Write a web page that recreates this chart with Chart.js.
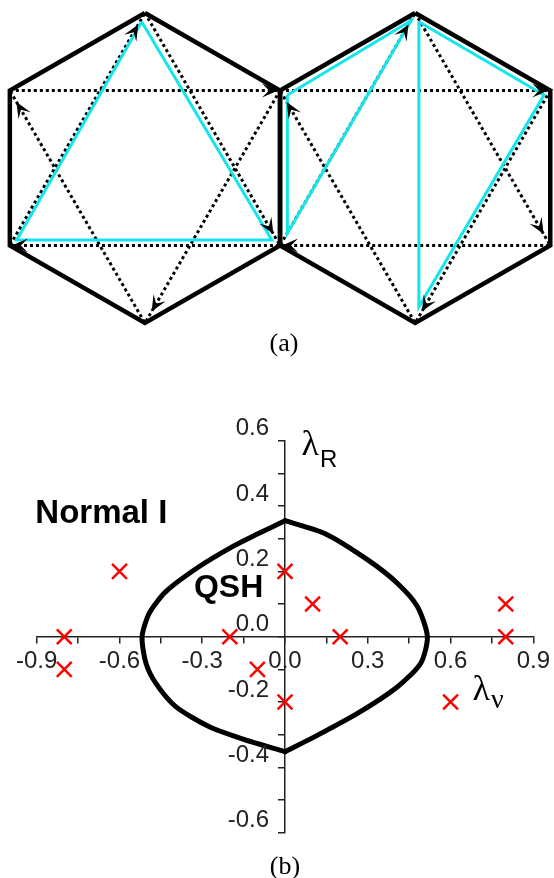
<!DOCTYPE html>
<html>
<head>
<meta charset="utf-8">
<script src="https://cdn.jsdelivr.net/npm/chart.js@4.4.1/dist/chart.umd.min.js"></script>
<style>
  html, body { margin: 0; padding: 0; background: #fff; }
  #wrap { position: relative; width: 554px; height: 878px; overflow: hidden; }
  canvas { position: absolute; left: 0; }
  #hexCanvas { top: 0; }
  #phaseCanvas { top: 380px; }
  .cap { position: absolute; transform: translate(-50%, -50%); font: 26px 'Liberation Serif', 'Times New Roman', serif; color: #000; white-space: nowrap; }
</style>
</head>
<body>
<div id="wrap">
  <canvas id="hexCanvas" width="554" height="330" style="width:554px;height:330px"></canvas>
  <canvas id="phaseCanvas" width="554" height="498" style="width:554px;height:498px"></canvas>
  <div class="cap" style="left:284px;top:343px">(a)</div>
  <div class="cap" style="left:285px;top:866px">(b)</div>
</div>
<script>
// (a) 격자 단위: 두 육각형이 공유하는 변이 x=0, 외접원 반지름 = 1
const hexVertexY = [1, 0.5, -0.5, -1, -0.5, 0.5];            // T, UR, LR, B, LL, UL
const hexLeftX   = [-0.866, 0, 0, -0.866, -1.732, -1.732];
const hexRightX  = [0.866, 1.732, 1.732, 0.866, 0, 0];
const hopOrderA  = [0, 2, 4, 0];                               // T -> LR -> LL -> T
const hopOrderB  = [5, 1, 3, 5];                               // UL -> UR -> B -> UL

const cyanLeftX   = [-0.887, -1.688, -0.053, -0.887];
const cyanLeftY   = [0.944, -0.465, -0.465, 0.944];
const cyanRightAX = [0.047, 0.838, 0.047, 0.047];
const cyanRightAY = [0.471, 0.950, -0.421, 0.471];
const cyanRightBX = [0.89, 1.692, 0.89, 0.89];
const cyanRightBY = [0.944, 0.471, -0.895, 0.944];

// (b) 상도: QSH 경계선, 계산 지점, 눈금
const boundaryLeftX  = [0, -0.108, -0.192, -0.312, -0.432, -0.492, -0.518, -0.504, -0.468, -0.396, -0.276, -0.144, 0];
const boundaryLeftY  = [0.355, 0.311, 0.275, 0.214, 0.138, 0.072, 0, -0.081, -0.143, -0.214, -0.275, -0.316, -0.352];
const boundaryRightX = [0, 0.144, 0.3, 0.408, 0.48, 0.516, 0.492, 0.408, 0.264, 0.108, 0];
const boundaryRightY = [0.355, 0.316, 0.235, 0.163, 0.092, 0, -0.081, -0.153, -0.234, -0.306, -0.352];
const sampleX = [-0.8, -0.8, -0.6, -0.2, -0.1, 0, 0, 0.1, 0.2, 0.6, 0.8, 0.8];
const sampleY = [0, -0.1, 0.2, 0, -0.1, 0.2, -0.2, 0.1, 0, -0.2, 0.1, 0];

const xTickValues = [-0.9, -0.75, -0.6, -0.45, -0.3, -0.15, 0, 0.15, 0.3, 0.45, 0.6, 0.75, 0.9];
const xMajor      = [-0.9, -0.6, -0.3, 0, 0.3, 0.6, 0.9];
const xTickLabels = ['-0.9', '-0.6', '-0.3', '0.0', '0.3', '0.6', '0.9'];
const yTickValues = [-0.6, -0.5, -0.4, -0.3, -0.2, -0.1, 0, 0.1, 0.2, 0.3, 0.4, 0.5, 0.6];
const yMajor      = [-0.6, -0.4, -0.2, 0, 0.2, 0.4, 0.6];
const yTickLabels = ['-0.6', '-0.4', '-0.2', '0.0', '0.2', '0.4', '0.6'];

const SANS = "'Liberation Sans', Arial, sans-serif";
const SERIF = "'Liberation Serif', 'Times New Roman', serif";
Chart.defaults.font.family = SANS;

const pts = (xs, ys) => xs.map((x, i) => ({ x, y: ys[i] }));
const ring = xs => pts([...xs, xs[0]], [...hexVertexY, hexVertexY[0]]);
const hop = (xs, order) => pts(order.map(i => xs[i]), order.map(i => hexVertexY[i]));

const lineDs = (data, extra) => Object.assign({
  data, showLine: true, fill: false, tension: 0, pointRadius: 0, pointHoverRadius: 0, clip: false,
}, extra);

const hexStyle  = { borderColor: '#000', borderWidth: 4.5, borderJoinStyle: 'miter', order: 2 };
const hopStyle  = { borderColor: '#000', borderWidth: 3, borderDash: [3, 3], borderCapStyle: 'butt', arrows: true, order: 1 };
const cyanStyle = { borderColor: '#12e6ec', borderWidth: 3, borderJoinStyle: 'miter', order: 0 };

// 점선 각 구간 끝에 화살촉. 위치는 스케일이 계산한 요소 좌표에서 가져옴
const arrowPlugin = {
  id: 'hopArrows',
  afterDatasetsDraw(chart) {
    const { ctx } = chart;
    chart.data.datasets.forEach((ds, di) => {
      if (!ds.arrows) return;
      const els = chart.getDatasetMeta(di).data;
      for (let i = 1; i < els.length; i++) {
        const a = els[i - 1], b = els[i];
        const ang = Math.atan2(b.y - a.y, b.x - a.x);
        const back = 2 + 13 * Math.abs(Math.sin(ang));
        ctx.save();
        ctx.translate(b.x - back * Math.cos(ang), b.y - back * Math.sin(ang));
        ctx.rotate(ang);
        ctx.fillStyle = '#000';
        ctx.beginPath();
        ctx.moveTo(0, 0);
        ctx.lineTo(-16, -7);
        ctx.lineTo(-9, 0);
        ctx.lineTo(-16, 7);
        ctx.closePath();
        ctx.fill();
        ctx.restore();
      }
    });
  },
};

const hiddenScale = (min, max) => ({ type: 'linear', min, max, display: false });

new Chart(document.getElementById('hexCanvas'), {
  type: 'scatter',
  data: {
    datasets: [
      lineDs(ring(hexLeftX), hexStyle),
      lineDs(ring(hexRightX), hexStyle),
      lineDs(hop(hexLeftX, hopOrderA), hopStyle),
      lineDs(hop(hexLeftX, hopOrderB), hopStyle),
      lineDs(hop(hexRightX, hopOrderA), hopStyle),
      lineDs(hop(hexRightX, hopOrderB), hopStyle),
      lineDs(pts(cyanLeftX, cyanLeftY), cyanStyle),
      lineDs(pts(cyanRightAX, cyanRightAY), cyanStyle),
      lineDs(pts(cyanRightBX, cyanRightBY), cyanStyle),
    ],
  },
  options: {
    responsive: false,
    animation: false,
    events: [],
    layout: { padding: 0 },
    plugins: { legend: { display: false }, tooltip: { enabled: false } },
    scales: { x: hiddenScale(-1.795, 1.756), y: hiddenScale(-1.045, 1.084) },
  },
  plugins: [arrowPlugin],
});

// (b)
const pickLabel = (majors, labels) => v => {
  const i = majors.findIndex(m => Math.abs(m - v) < 1e-6);
  return i >= 0 ? labels[i] : '';
};

const axisOpts = (min, max, values, majors, labels, extra) => ({
  type: 'linear', min, max,
  afterBuildTicks: s => { s.ticks = values.map(value => ({ value })); },
  grid: { drawOnChartArea: false, drawTicks: true, tickLength: 6, color: '#222', lineWidth: 1.5 },
  border: { display: true, color: '#222', width: 1.5 },
  ticks: Object.assign({
    autoSkip: false, maxRotation: 0, minRotation: 0, color: '#222',
    font: { family: SANS, size: 24 },
    callback: pickLabel(majors, labels),
  }, extra),
});

// 세로축 눈금 라벨: 축 왼쪽, 눈금보다 조금 위
const yLabelPlugin = {
  id: 'yTickLabels',
  afterDraw(chart) {
    const { ctx, scales: { x, y } } = chart;
    const axisX = x.getPixelForValue(0);
    ctx.save();
    ctx.fillStyle = '#222';
    ctx.font = `24px ${SANS}`;
    ctx.textAlign = 'right';
    ctx.textBaseline = 'middle';
    yMajor.forEach((v, i) => ctx.fillText(yTickLabels[i], axisX - 16, y.getPixelForValue(v) - 12));
    ctx.restore();
  },
};

// 텍스트 라벨 (데이터 좌표 기준)
const textPlugin = {
  id: 'phaseText',
  afterDraw(chart) {
    const { ctx, scales: { x, y } } = chart;
    ctx.save();
    ctx.fillStyle = '#000';
    ctx.textBaseline = 'alphabetic';
    ctx.textAlign = 'left';
    ctx.font = `bold 33px ${SANS}`;
    ctx.fillText('Normal I', x.getPixelForValue(-0.905), y.getPixelForValue(0.348));
    ctx.font = `bold 32px ${SANS}`;
    ctx.fillText('QSH', x.getPixelForValue(-0.33), y.getPixelForValue(0.122));

    const sym = (sub, subFont, vx, vy, drop) => {
      const px = x.getPixelForValue(vx), py = y.getPixelForValue(vy);
      ctx.font = `36px ${SERIF}`;
      ctx.fillText('λ', px, py);
      const w = ctx.measureText('λ').width;
      ctx.font = subFont;
      ctx.fillText(sub, px + w + 1, py + drop);
    };
    sym('R', `24px ${SANS}`, 0.06, 0.556, 12);
    sym('ν', `28px ${SERIF}`, 0.68, -0.194, 8);
    ctx.restore();
  },
};

new Chart(document.getElementById('phaseCanvas'), {
  type: 'scatter',
  data: {
    datasets: [
      lineDs(pts(boundaryLeftX, boundaryLeftY), { borderColor: '#000', borderWidth: 5, tension: 0.25, borderCapStyle: 'round', order: 1 }),
      lineDs(pts(boundaryRightX, boundaryRightY), { borderColor: '#000', borderWidth: 5, tension: 0.25, borderCapStyle: 'round', order: 1 }),
      {
        data: pts(sampleX, sampleY), showLine: false, clip: false, order: 0,
        pointStyle: 'crossRot', pointRadius: 10.5, pointHoverRadius: 10.5,
        pointBorderColor: '#ff0000', pointBackgroundColor: '#ff0000', pointBorderWidth: 2.5,
      },
    ],
  },
  options: {
    responsive: false,
    animation: false,
    events: [],
    layout: { padding: { left: 36.7, right: 17.3, top: 60.7, bottom: 45.3 } },
    plugins: { legend: { display: false }, tooltip: { enabled: false } },
    scales: {
      x: Object.assign(axisOpts(-0.9, 0.9, xTickValues, xMajor, xTickLabels, { padding: 4 }), { position: { y: 0 } }),
      y: Object.assign(axisOpts(-0.6, 0.6, yTickValues, yMajor, yTickLabels, { display: false }), { position: { x: 0 } }),
    },
  },
  plugins: [yLabelPlugin, textPlugin],
});
</script>
</body>
</html>
